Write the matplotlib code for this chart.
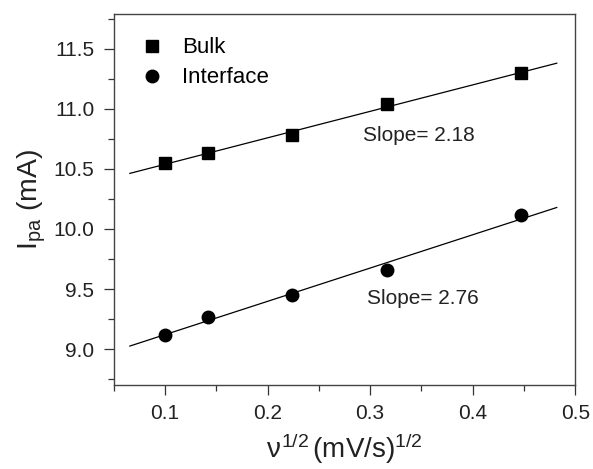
import numpy as np
import matplotlib
matplotlib.use('Agg')
import matplotlib.pyplot as plt
from matplotlib.ticker import MultipleLocator

plt.rcParams['font.family'] = 'Liberation Sans'
plt.rcParams['mathtext.fontset'] = 'custom'
plt.rcParams['mathtext.rm'] = 'Liberation Sans'
plt.rcParams['mathtext.it'] = 'Liberation Sans'

# sqrt of scan rate (mV/s)^1/2
x = [0.1, 0.1414, 0.2236, 0.3162, 0.4472]
bulk = [10.55, 10.63, 10.78, 11.04, 11.30]
interface = [9.12, 9.27, 9.45, 9.66, 10.12]

fit_x = np.array([0.0656, 0.482])

fig = plt.figure(figsize=(5.93, 4.69), dpi=100)
ax = fig.add_axes([0.192, 0.179, 0.778, 0.791])

for y in (bulk, interface):
    p = np.polyfit(x, y, 1)
    ax.plot(fit_x, np.polyval(p, fit_x), 'k-', lw=0.9)

ax.plot(x, bulk, 'ks', ms=8.5, label='Bulk', linestyle='none')
ax.plot(x, interface, 'ko', ms=9, label='Interface', linestyle='none')

ax.text(0.293, 10.78, 'Slope= 2.18', fontsize=15, va='center', color='#222222')
ax.text(0.297, 9.42, 'Slope= 2.76', fontsize=15, va='center', color='#222222')

ax.set_xlim(0.05, 0.5)
ax.set_ylim(8.7, 11.79)
ax.xaxis.set_minor_locator(MultipleLocator(0.05))
ax.yaxis.set_minor_locator(MultipleLocator(0.25))
ax.set_xticks([0.1, 0.2, 0.3, 0.4, 0.5])
ax.set_xticklabels(['0.1', '0.2', '0.3', '0.4', '0.5'])
ax.set_yticks([9.0, 9.5, 10.0, 10.5, 11.0, 11.5])
ax.set_yticklabels(['9.0', '9.5', '10.0', '10.5', '11.0', '11.5'])
ax.tick_params(which='major', direction='out', length=7, width=0.9, pad=7, labelsize=15, colors='#333333', labelcolor='#222222')
ax.tick_params(which='minor', direction='out', length=4, width=0.9, colors='#333333')
for s in ax.spines.values():
    s.set_linewidth(1.0)
    s.set_color('#444444')

ax.set_xlabel('$\\nu^{1/2}\\,$(mV/s)$^{1/2}$', fontsize=20, labelpad=6, color='#222222')
ax.set_ylabel('I$_{\\mathregular{pa}}$ (mA)', fontsize=20.5, labelpad=4, color='#222222')

ax.legend(loc='upper left', frameon=False, fontsize=16, handletextpad=0.6,
          bbox_to_anchor=(-0.015, 1.015), borderaxespad=0.9, labelspacing=0.4, handlelength=1.5)

fig.savefig('out.png', dpi=100)
